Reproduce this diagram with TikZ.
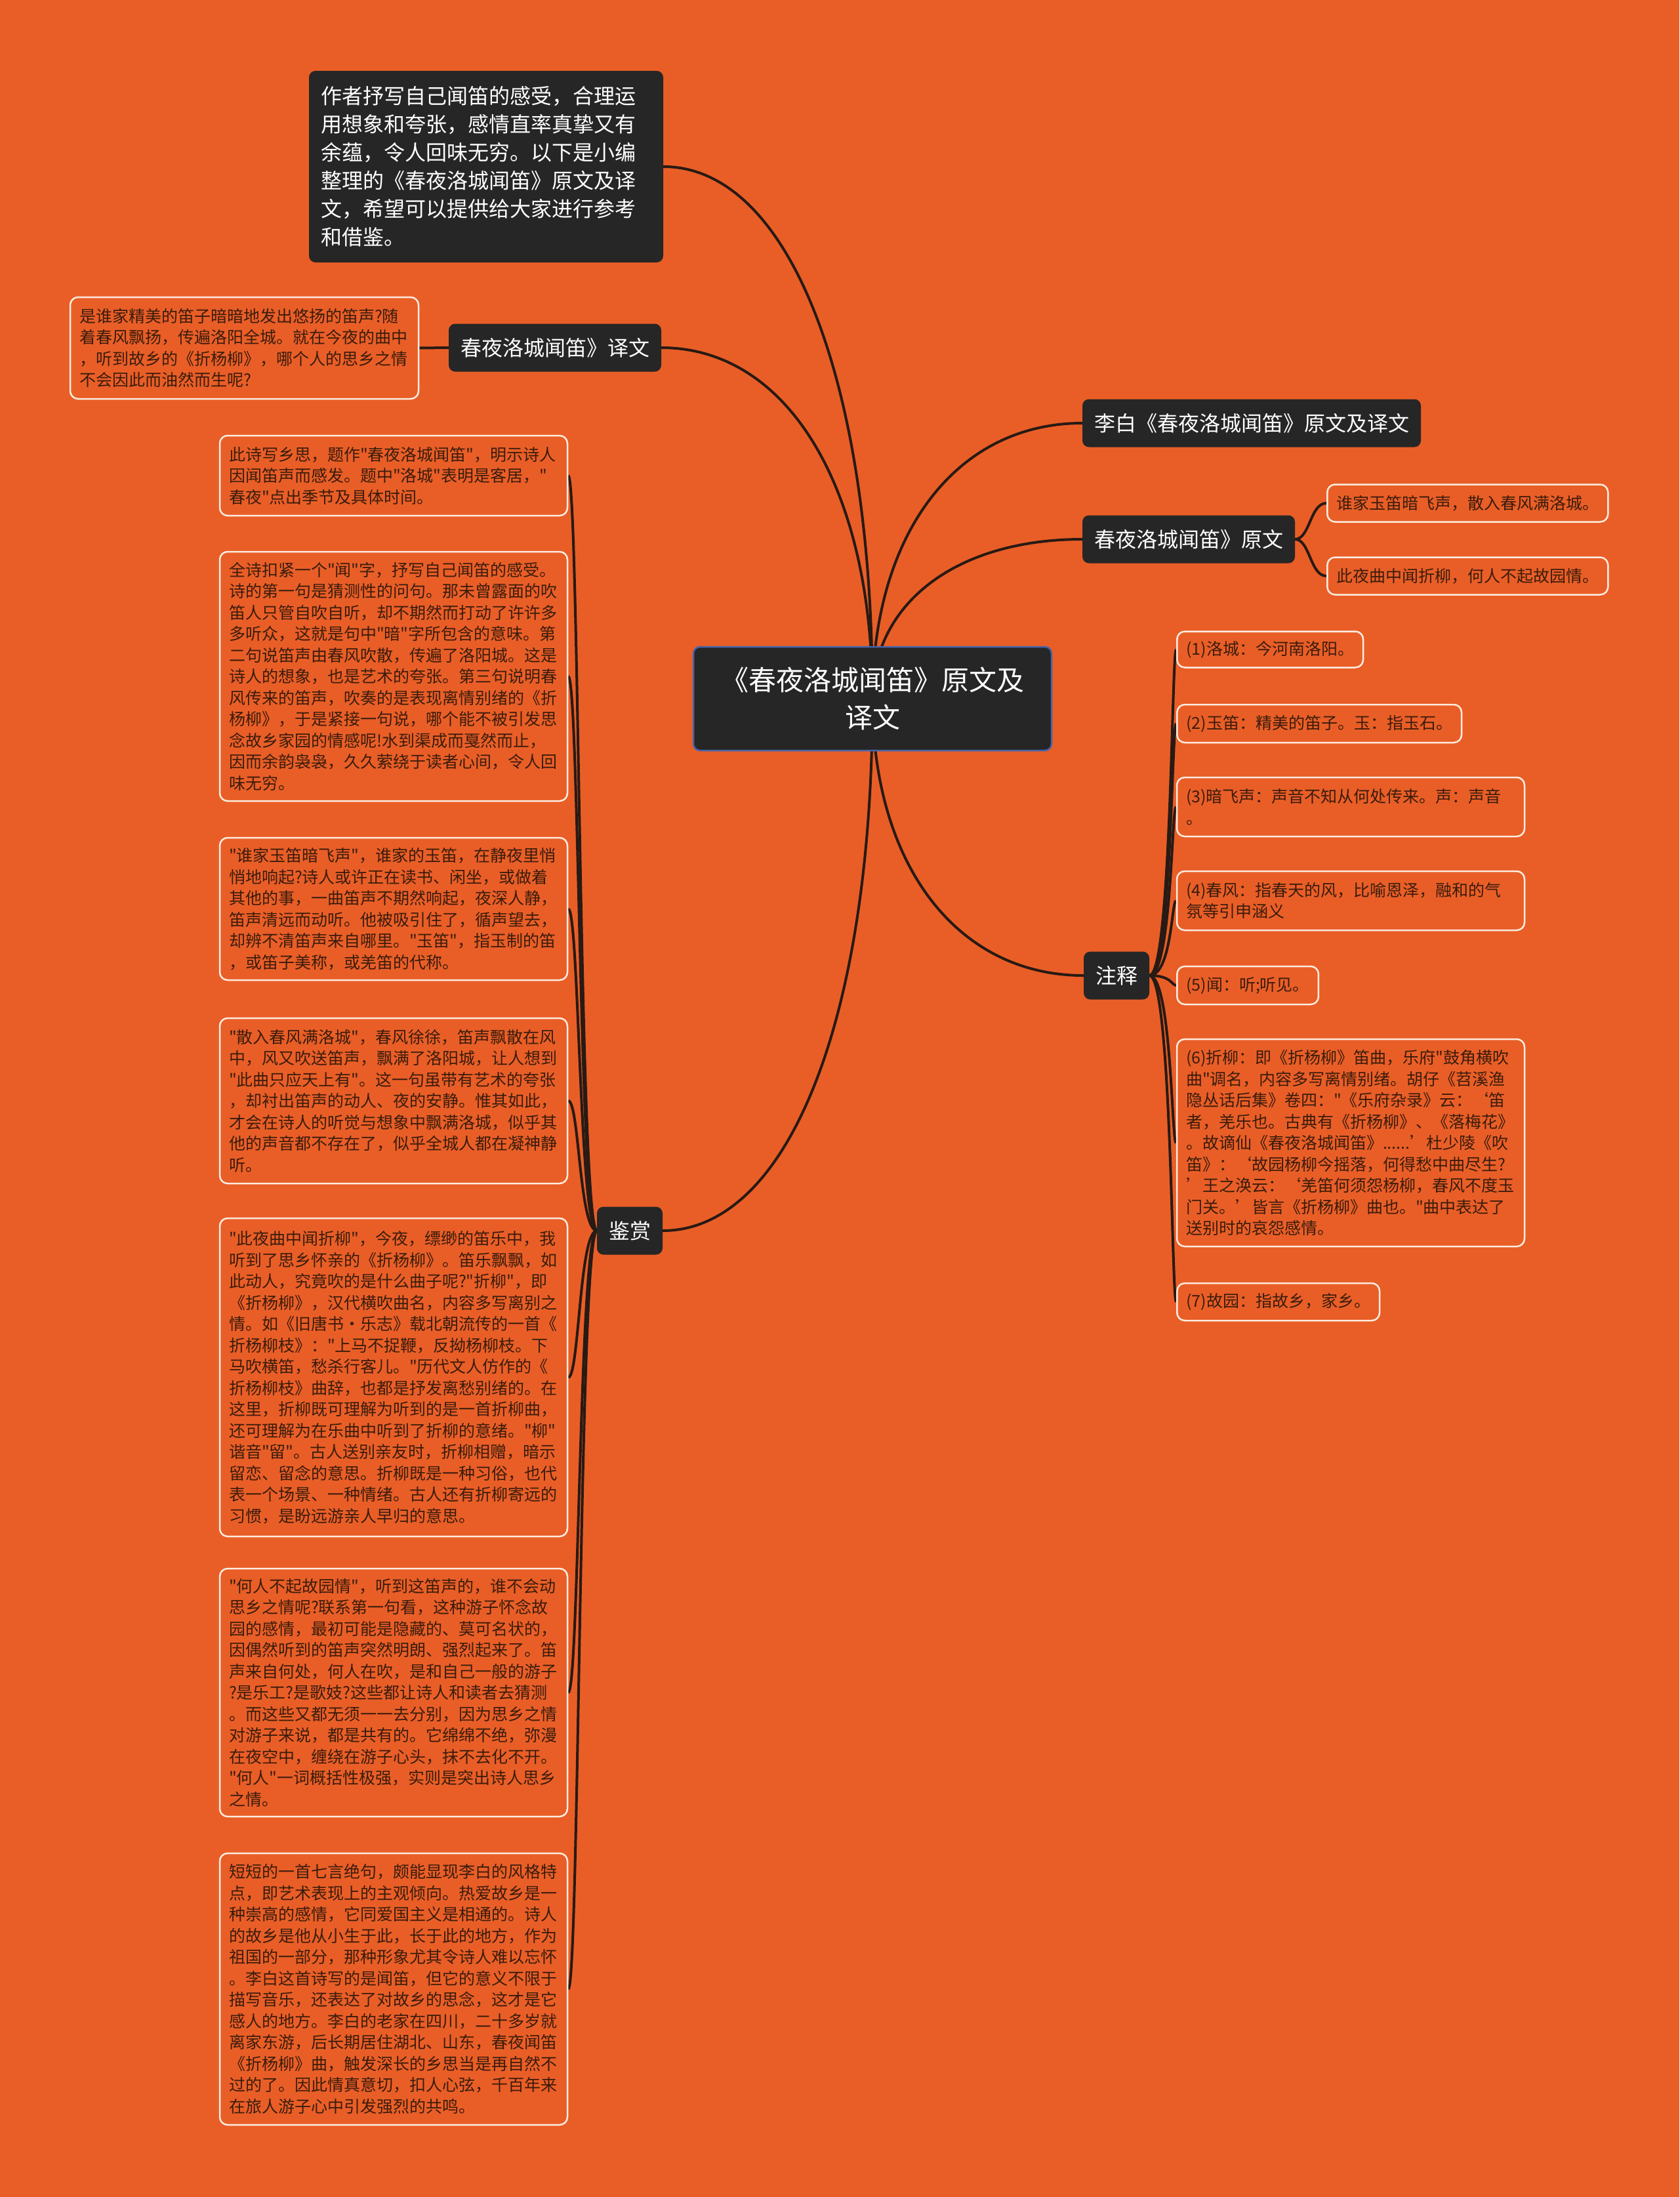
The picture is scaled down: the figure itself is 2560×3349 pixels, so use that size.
\documentclass[tikz,border=0pt]{standalone}
\usepackage{fontspec}
\newfontfamily\cjk{Noto Sans CJK SC}
\usetikzlibrary{calc}
\pgfdeclarelayer{bgl}
\pgfdeclarelayer{edges}
\pgfsetlayers{bgl,edges,main}
\definecolor{bgc}{RGB}{233,94,39}
\definecolor{darkbox}{RGB}{38,38,38}
\definecolor{leaftext}{RGB}{58,28,12}
\definecolor{leafborder}{RGB}{252,236,224}
\definecolor{linec}{RGB}{40,26,20}
\definecolor{rootborder}{RGB}{70,100,170}
\tikzset{
  darknode/.style={fill=darkbox, draw=black!85, line width=2pt, rounded corners=9pt,
    text=white, font=\cjk\fontsize{32}{43}\selectfont, inner xsep=17pt, inner ysep=0pt,
    minimum height=71pt},
  rootnode/.style={fill=darkbox, draw=rootborder, line width=2.5pt, rounded corners=10pt,
    text=white, font=\cjk\fontsize{42}{57}\selectfont, align=center, text width=480pt,
    minimum width=546pt, minimum height=158pt},
  leaf/.style={fill=bgc, draw=leafborder, line width=2.5pt, rounded corners=12pt,
    text=leaftext, font=\cjk\fontsize{25}{32.5}\selectfont, inner xsep=14pt,
    inner ysep=8pt, align=left},
  wideleaf/.style={leaf, text width=502pt},
  conn/.style={draw=linec, line width=4pt},
}
\newcommand\rootlink[2]{\draw[conn] let \p1=(#1), \p2=(#2) in (\p1) .. controls (\x1, {\y1+0.6*(\y2-\y1)}) and ({\x2+0.6*(\x1-\x2)}, \y2) .. (\p2);}
\newcommand\treelink[3]{\draw[conn] let \p1=(#1), \p2=(#2) in (\p1) .. controls ({\x1+#3}, \y1) and ({\x1+#3}, \y2) .. (\p2);}
\begin{document}
\begin{tikzpicture}[x=1pt,y=-1pt]
\begin{pgfonlayer}{bgl}
\fill[bgc] (0,0) rectangle (2560,3349);
\end{pgfonlayer}
\useasboundingbox (0,0) rectangle (2560,3349);

% root
\node[rootnode] (root) at (1330,1065) {《春夜洛城闻笛》原文及\\译文};

% intro
\node[darknode, align=left, text width=504pt, minimum height=290pt] (intro) at (741,254)
 {作者抒写自己闻笛的感受，合理运\\用想象和夸张，感情直率真挚又有\\余蕴，令人回味无穷。以下是小编\\整理的《春夜洛城闻笛》原文及译\\文，希望可以提供给大家进行参考\\和借鉴。};

% translation
\node[darknode, anchor=east] (yiwen) at (1008,530) {春夜洛城闻笛》译文};
\node[leaf, text width=503pt, minimum height=155pt] (tl) at (372.5,530.5)
 {是谁家精美的笛子暗暗地发出悠扬的笛声?随\\着春风飘扬，传遍洛阳全城。就在今夜的曲中\\，听到故乡的《折杨柳》，哪个人的思乡之情\\不会因此而油然而生呢?};

% right side
\node[darknode, anchor=west] (libai) at (1650,645) {李白《春夜洛城闻笛》原文及译文};
\node[darknode, anchor=west] (yuanwen) at (1650,822) {春夜洛城闻笛》原文};
\node[leaf, anchor=west, minimum height=57pt] (y1) at (2022,767) {谁家玉笛暗飞声，散入春风满洛城。};
\node[leaf, anchor=west, minimum height=57pt] (y2) at (2022,878) {此夜曲中闻折柳，何人不起故园情。};

\node[darknode, anchor=west] (zhushi) at (1652,1487) {注释};
\node[leaf, anchor=west, minimum height=55pt] (n1) at (1793,990) {(1)洛城：今河南洛阳。};
\node[leaf, anchor=west, minimum height=58pt] (n2) at (1793,1103) {(2)玉笛：精美的笛子。玉：指玉石。};
\node[wideleaf, minimum height=90pt] (n3) at (2059,1230) {(3)暗飞声：声音不知从何处传来。声：声音\\。};
\node[wideleaf, minimum height=90pt] (n4) at (2059,1373) {(4)春风：指春天的风，比喻恩泽，融和的气\\氛等引申涵义};
\node[leaf, anchor=west, minimum height=58pt] (n5) at (1793,1502) {(5)闻：听;听见。};
\node[wideleaf, minimum height=316pt] (n6) at (2059,1742)
 {(6)折柳：即《折杨柳》笛曲，乐府"鼓角横吹\\曲"调名，内容多写离情别绪。胡仔《苕溪渔\\隐丛话后集》卷四："《乐府杂录》云：‘笛\\者，羌乐也。古典有《折杨柳》、《落梅花》\\。故谪仙《春夜洛城闻笛》......’杜少陵《吹\\笛》：‘故园杨柳今摇落，何得愁中曲尽生?\\’王之涣云：‘羌笛何须怨杨柳，春风不度玉\\门关。’皆言《折杨柳》曲也。"曲中表达了\\送别时的哀怨感情。};
\node[leaf, anchor=west, minimum height=57pt] (n7) at (1793,1984.5) {(7)故园：指故乡，家乡。};

% left appreciation
\node[darknode, anchor=east] (jianshang) at (1010,1876) {鉴赏};
\node[wideleaf, minimum height=122pt] (b1) at (600,725)
 {此诗写乡思，题作"春夜洛城闻笛"，明示诗人\\因闻笛声而感发。题中"洛城"表明是客居，"\\春夜"点出季节及具体时间。};
\node[wideleaf, minimum height=380pt] (b2) at (600,1031)
 {全诗扣紧一个"闻"字，抒写自己闻笛的感受。\\诗的第一句是猜测性的问句。那未曾露面的吹\\笛人只管自吹自听，却不期然而打动了许许多\\多听众，这就是句中"暗"字所包含的意味。第\\二句说笛声由春风吹散，传遍了洛阳城。这是\\诗人的想象，也是艺术的夸张。第三句说明春\\风传来的笛声，吹奏的是表现离情别绪的《折\\杨柳》，于是紧接一句说，哪个能不被引发思\\念故乡家园的情感呢!水到渠成而戛然而止，\\因而余韵袅袅，久久萦绕于读者心间，令人回\\味无穷。};
\node[wideleaf, minimum height=217pt] (b3) at (600,1385.5)
 {"谁家玉笛暗飞声"，谁家的玉笛，在静夜里悄\\悄地响起?诗人或许正在读书、闲坐，或做着\\其他的事，一曲笛声不期然响起，夜深人静，\\笛声清远而动听。他被吸引住了，循声望去，\\却辨不清笛声来自哪里。"玉笛"，指玉制的笛\\，或笛子美称，或羌笛的代称。};
\node[wideleaf, minimum height=252pt] (b4) at (600,1678)
 {"散入春风满洛城"，春风徐徐，笛声飘散在风\\中，风又吹送笛声，飘满了洛阳城，让人想到\\"此曲只应天上有"。这一句虽带有艺术的夸张\\，却衬出笛声的动人、夜的安静。惟其如此，\\才会在诗人的听觉与想象中飘满洛城，似乎其\\他的声音都不存在了，似乎全城人都在凝神静\\听。};
\node[wideleaf, minimum height=485pt] (b5) at (600,2099.5)
 {"此夜曲中闻折柳"，今夜，缥缈的笛乐中，我\\听到了思乡怀亲的《折杨柳》。笛乐飘飘，如\\此动人，究竟吹的是什么曲子呢?"折柳"，即\\《折杨柳》，汉代横吹曲名，内容多写离别之\\情。如《旧唐书·乐志》载北朝流传的一首《\\折杨柳枝》："上马不捉鞭，反拗杨柳枝。下\\马吹横笛，愁杀行客儿。"历代文人仿作的《\\折杨柳枝》曲辞，也都是抒发离愁别绪的。在\\这里，折柳既可理解为听到的是一首折柳曲，\\还可理解为在乐曲中听到了折柳的意绪。"柳"\\谐音"留"。古人送别亲友时，折柳相赠，暗示\\留恋、留念的意思。折柳既是一种习俗，也代\\表一个场景、一种情绪。古人还有折柳寄远的\\习惯，是盼远游亲人早归的意思。};
\node[wideleaf, minimum height=378pt] (b6) at (600,2580)
 {"何人不起故园情"，听到这笛声的，谁不会动\\思乡之情呢?联系第一句看，这种游子怀念故\\园的感情，最初可能是隐藏的、莫可名状的，\\因偶然听到的笛声突然明朗、强烈起来了。笛\\声来自何处，何人在吹，是和自己一般的游子\\?是乐工?是歌妓?这些都让诗人和读者去猜测\\。而这些又都无须一一去分别，因为思乡之情\\对游子来说，都是共有的。它绵绵不绝，弥漫\\在夜空中，缠绕在游子心头，抹不去化不开。\\"何人"一词概括性极强，实则是突出诗人思乡\\之情。};
\node[wideleaf, minimum height=414pt] (b7) at (600,3032)
 {短短的一首七言绝句，颇能显现李白的风格特\\点，即艺术表现上的主观倾向。热爱故乡是一\\种崇高的感情，它同爱国主义是相通的。诗人\\的故乡是他从小生于此，长于此的地方，作为\\祖国的一部分，那种形象尤其令诗人难以忘怀\\。李白这首诗写的是闻笛，但它的意义不限于\\描写音乐，还表达了对故乡的思念，这才是它\\感人的地方。李白的老家在四川，二十多岁就\\离家东游，后长期居住湖北、山东，春夜闻笛\\《折杨柳》曲，触发深长的乡思当是再自然不\\过的了。因此情真意切，扣人心弦，千百年来\\在旅人游子心中引发强烈的共鸣。};

% connectors
\begin{pgfonlayer}{edges}
\rootlink{root.center}{intro.east}
\rootlink{root.center}{yiwen.east}
\rootlink{root.center}{libai.west}
\rootlink{root.center}{yuanwen.west}
\rootlink{root.center}{zhushi.west}
\rootlink{root.center}{jianshang.east}
\draw[conn] (yiwen.west) -- (tl.east);
\treelink{yuanwen.east}{y1.west}{23}
\treelink{yuanwen.east}{y2.west}{23}
\treelink{zhushi.east}{n1.west}{34}
\treelink{zhushi.east}{n2.west}{34}
\treelink{zhushi.east}{n3.west}{34}
\treelink{zhushi.east}{n4.west}{34}
\treelink{zhushi.east}{n5.west}{34}
\treelink{zhushi.east}{n6.west}{34}
\treelink{zhushi.east}{n7.west}{34}
\treelink{jianshang.west}{b1.east}{-27}
\treelink{jianshang.west}{b2.east}{-27}
\treelink{jianshang.west}{b3.east}{-27}
\treelink{jianshang.west}{b4.east}{-27}
\treelink{jianshang.west}{b5.east}{-27}
\treelink{jianshang.west}{b6.east}{-27}
\treelink{jianshang.west}{b7.east}{-27}
\end{pgfonlayer}
\end{tikzpicture}
\end{document}
